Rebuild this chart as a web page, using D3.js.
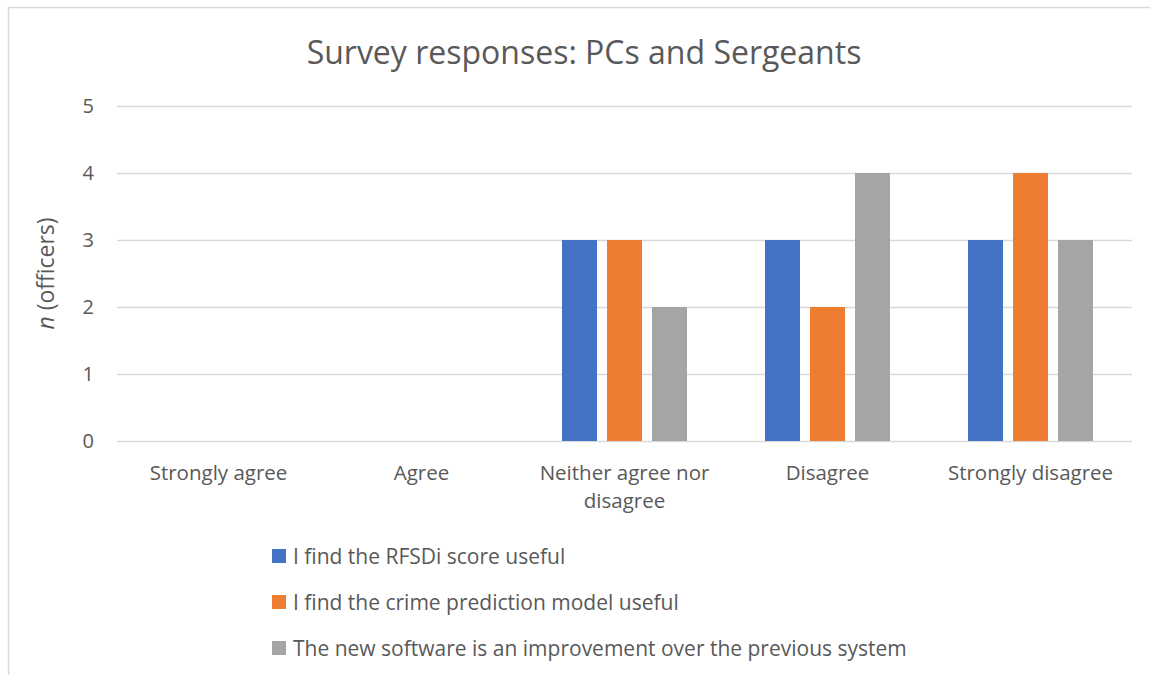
<!DOCTYPE html>
<html>
<head>
<meta charset="utf-8" />
<title>Survey responses: PCs and Sergeants</title>
<style>
body { margin: 0; background: #fff; }
#graph { width: 1150px; height: 675px; font-family: "Open Sans", "Noto Sans", sans-serif; }
.tick line { stroke: #d9d9d9; stroke-width: 1.5px; }
.axis text { fill: #595959; }
</style>
</head>
<body>
<div id="graph"></div>
<script src="https://cdnjs.cloudflare.com/ajax/libs/d3/7.8.5/d3.min.js"></script>
<script>
!(function(){
    "use strict"

    var categories = [["Strongly agree"], ["Agree"], ["Neither agree nor", "disagree"], ["Disagree"], ["Strongly disagree"]]
    var seriesNames = [
        "I find the RFSDi score useful",
        "I find the crime prediction model useful",
        "The new software is an improvement over the previous system"
    ]
    var rfsdi = [0, 0, 3, 3, 3]
    var crimeModel = [0, 0, 3, 2, 4]
    var newSoftware = [0, 0, 2, 4, 3]
    var yTicks = [0, 1, 2, 3, 4, 5]
    var colors = ["#4472C4", "#ED7D31", "#A5A5A5"]

    var width = 1150, height = 675
    var margin = {top: 106, left: 117, bottom: 234, right: 18}
    var chartWidth = width - margin.left - margin.right
    var chartHeight = height - margin.top - margin.bottom

    var svg = d3.select("#graph").append("svg").attr("width", width).attr("height", height)

    // outer chart border (runs off the bottom/right edge)
    svg.append("rect")
        .attr("x", 8.5).attr("y", 7.5)
        .attr("width", 1200).attr("height", 700)
        .attr("fill", "none").attr("stroke", "#d9d9d9").attr("stroke-width", 1.5)

    svg.append("text")
        .attr("x", 584).attr("y", 64)
        .attr("text-anchor", "middle")
        .attr("fill", "#595959")
        .attr("font-size", "32px")
        .text("Survey responses: PCs and Sergeants")

    var catKeys = categories.map(function(c){ return c.join(" ") })
    var series = [rfsdi, crimeModel, newSoftware]

    var xScale = d3.scaleBand().domain(catKeys).range([0, chartWidth])
    var innerScale = d3.scaleBand().domain(d3.range(series.length)).range([-62.5, 62.5]).paddingInner(10/45)
    var yScale = d3.scaleLinear().domain([0, 5]).range([chartHeight, 0])

    var chartLayer = svg.append("g").attr("transform", "translate(" + [margin.left, margin.top] + ")")

    var yAxis = d3.axisLeft(yScale).tickValues(yTicks).tickFormat(d3.format("d"))
        .tickSizeInner(-chartWidth).tickSizeOuter(0).tickPadding(23)
    var yg = chartLayer.append("g").attr("class", "axis y").call(yAxis)
    yg.select(".domain").remove()
    yg.selectAll("text").attr("font-size", "20px").attr("font-family", "Open Sans")

    var yLabel = svg.append("text")
        .attr("transform", "translate(54," + (margin.top + chartHeight / 2) + ") rotate(-90)")
        .attr("text-anchor", "middle")
        .attr("fill", "#595959")
        .attr("font-size", "23px")
    yLabel.append("tspan").attr("font-style", "italic").text("n")
    yLabel.append("tspan").text(" (officers)")

    var rows = []
    series.forEach(function(s, i){
        s.forEach(function(v, j){ rows.push({cat: catKeys[j], s: i, value: v}) })
    })

    chartLayer.selectAll(".bar").data(rows.filter(function(d){ return d.value > 0 }))
        .enter().append("rect").classed("bar", true)
        .attr("x", function(d){ return xScale(d.cat) + xScale.bandwidth() / 2 + innerScale(d.s) })
        .attr("width", innerScale.bandwidth())
        .attr("y", function(d){ return yScale(d.value) })
        .attr("height", function(d){ return chartHeight - yScale(d.value) })
        .attr("fill", function(d){ return colors[d.s] })

    var xg = chartLayer.append("g").attr("transform", "translate(0," + chartHeight + ")")
    xg.selectAll("text").data(categories).enter().append("text")
        .attr("x", function(d){ return xScale(d.join(" ")) + xScale.bandwidth() / 2 })
        .attr("y", 39)
        .attr("text-anchor", "middle")
        .attr("fill", "#595959")
        .attr("font-size", "20.5px")
        .each(function(d){
            var t = d3.select(this)
            d.forEach(function(line, i){
                t.append("tspan")
                    .attr("x", t.attr("x"))
                    .attr("dy", i === 0 ? 0 : 28)
                    .text(line)
            })
        })

    var legend = svg.append("g").attr("transform", "translate(272,549)")
    var item = legend.selectAll("g").data(seriesNames).enter().append("g")
        .attr("transform", function(d, i){ return "translate(0," + (i * 46) + ")" })
    item.append("rect").attr("width", 14).attr("height", 14)
        .attr("fill", function(d, i){ return colors[i] })
    item.append("text").attr("x", 21).attr("y", 14.5)
        .attr("fill", "#595959")
        .attr("font-size", "21px")
        .text(function(d){ return d })
}());
</script>
</body>
</html>
